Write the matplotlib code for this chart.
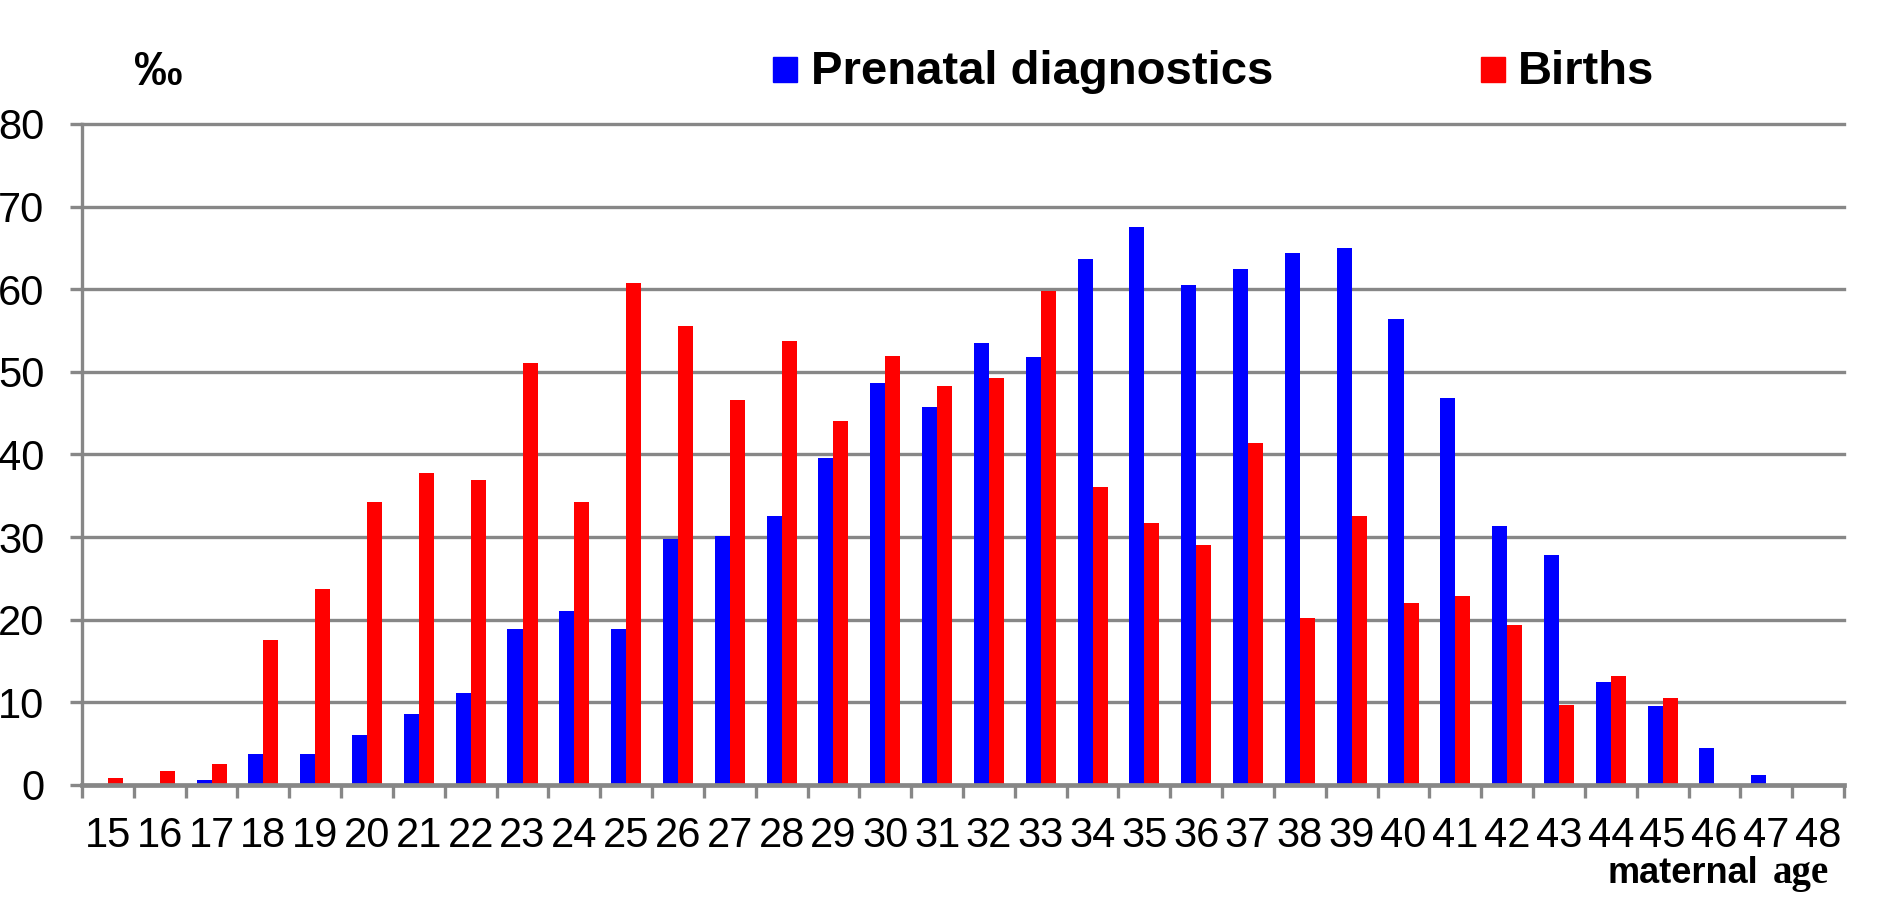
import matplotlib
matplotlib.use("Agg")
import matplotlib.pyplot as plt
import numpy as np
from matplotlib.patches import Rectangle

ages = [str(a) for a in range(15, 49)]
prenatal = [0.0, 0.15, 0.55, 3.8, 3.8, 6.0, 8.6, 11.1, 18.9, 21.1, 18.9, 29.8, 30.1, 32.6,
            39.6, 48.7, 45.8, 53.5, 51.85, 63.7, 67.5, 60.5, 62.5, 64.4, 65.0, 56.4, 46.8,
            31.4, 27.8, 12.45, 9.55, 4.45, 1.2, 0.15]
births = [0.8, 1.65, 2.6, 17.6, 23.7, 34.3, 37.8, 36.9, 51.05, 34.3, 60.7, 55.5, 46.6, 53.7,
          44.0, 51.9, 48.35, 49.3, 59.8, 36.1, 31.7, 29.1, 41.4, 20.25, 32.6, 22.05, 22.9,
          19.4, 9.65, 13.2, 10.5, 0.0, 0.0, 0.0]
yticks = [0, 10, 20, 30, 40, 50, 60, 70, 80]
series_names = ["Prenatal diagnostics", "Births"]
colors = ["#0000FF", "#FF0000"]

W, H = 1882, 898
fig = plt.figure(figsize=(W / 100, H / 100), dpi=100)
left, right, y0, y80 = 82, 1844, 785, 124
ax = fig.add_axes([left / W, 1 - y0 / H, (right - left) / W, (y0 - y80) / H])

x = np.arange(len(ages))
bw = 0.29
grid_c = "#878787"
ax.bar(x - bw / 2, prenatal, width=bw, color=colors[0], zorder=3)
ax.bar(x + bw / 2, births, width=bw, color=colors[1], zorder=3)

ax.set_xlim(-0.5, len(ages) - 0.5)
ax.set_ylim(0, 80)
ax.set_yticks(yticks)
ax.set_yticklabels([str(v) for v in yticks], fontfamily="Liberation Sans", fontsize=30)
for v in yticks[1:]:
    ax.axhline(v, color=grid_c, lw=2.4, zorder=1, clip_on=False)

ax.set_xticks(x)
ax.set_xticklabels(ages, fontfamily="Liberation Sans", fontsize=30)
ax.set_xticks(np.arange(-0.5, len(ages), 1.0), minor=True)
ax.tick_params(axis="x", which="major", length=0, pad=22)
ax.tick_params(axis="x", which="minor", length=9, width=2.4, color=grid_c, direction="out")
ax.tick_params(axis="y", which="major", length=9, width=2.4, color=grid_c, pad=18)

for s in ["top", "right"]:
    ax.spines[s].set_visible(False)
ax.spines["left"].set_color(grid_c)
ax.spines["left"].set_linewidth(2.4)
ax.spines["bottom"].set_color(grid_c)
ax.spines["bottom"].set_linewidth(3.4)
ax.spines["bottom"].set_zorder(4)

# per-mille label
fig.text(134 / W, 1 - 85 / H, "‰", fontfamily="Liberation Sans", fontweight="bold",
         fontsize=35, ha="left", va="baseline")

# legend
leg_items = [(773, 811), (1481, 1518)]
for (mx, tx), name, c in zip(leg_items, series_names, colors):
    fig.patches.append(Rectangle((mx / W, 1 - 82 / H), 24 / W, 25 / H,
                                 transform=fig.transFigure, color=c))
    fig.text(tx / W, 1 - 84 / H, name, fontfamily="Liberation Sans", fontweight="bold",
             fontsize=34, ha="left", va="baseline")

# axis title
fig.text(1607 / W, 1 - 883 / H, "maternal", fontfamily="Liberation Sans", fontweight="bold",
         fontsize=26, ha="left", va="baseline")
fig.text(1773 / W, 1 - 883 / H, "age", fontfamily="Liberation Serif", fontweight="bold",
         fontsize=28, ha="left", va="baseline")

fig.savefig("out.png", dpi=100)
